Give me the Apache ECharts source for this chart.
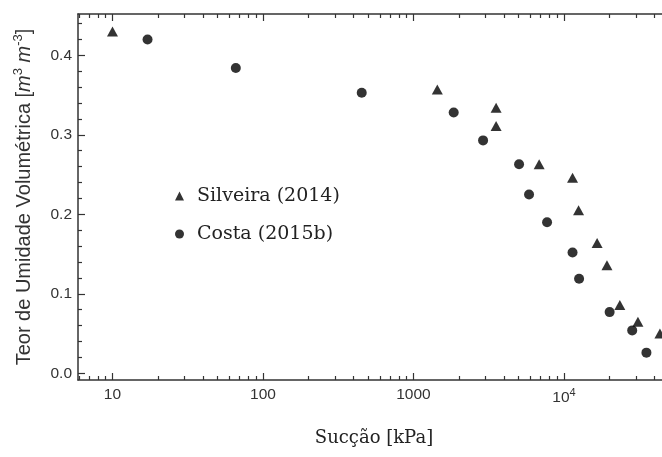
<!DOCTYPE html>
<html>
<head>
<meta charset="utf-8">
<script src="https://cdn.jsdelivr.net/npm/echarts@6/dist/echarts.min.js"></script>
<style>html,body{margin:0;padding:0;background:#fff;}#c{width:662px;height:457px;}</style>
</head>
<body>
<div id="c"></div>
<script>
var silveiraX = [10, 1440, 3540, 3540, 6840, 11400, 12500, 16600, 19300, 23500, 31000, 43400];
var silveiraY = [0.430, 0.357, 0.334, 0.311, 0.263, 0.246, 0.205, 0.164, 0.136, 0.086, 0.065, 0.050];
var costaX = [17.1, 66, 453, 1850, 2900, 5030, 5860, 7720, 11400, 12600, 20100, 28400, 35300];
var costaY = [0.420, 0.384, 0.353, 0.328, 0.293, 0.263, 0.225, 0.190, 0.152, 0.119, 0.077, 0.054, 0.026];
var seriesNames = ['Silveira (2014)', 'Costa (2015b)'];
var xMajor = [10, 100, 1000, 10000];
var xMinor = [6, 7, 8, 9, 20, 30, 40, 50, 60, 70, 80, 90, 200, 300, 400, 500, 600, 700, 800, 900,
              2000, 3000, 4000, 5000, 6000, 7000, 8000, 9000, 20000, 30000, 40000];
var yMajor = [0, 0.1, 0.2, 0.3, 0.4];
var yMinor = [0.02, 0.04, 0.06, 0.08, 0.12, 0.14, 0.16, 0.18, 0.22, 0.24, 0.26, 0.28,
              0.32, 0.34, 0.36, 0.38, 0.42, 0.44];
var xTitle = 'Sucção [kPa]';

function zip(xs, ys) { return xs.map(function (x, i) { return [x, ys[i]]; }); }

var axisColor = '#333';
var xMin = 5.9, xMax = 44800, yMin = -0.0084, yMax = 0.452;

function xAxisDef(pos, major, withLabels) {
  return {
    type: 'log', logBase: 10, min: xMin, max: xMax, position: pos,
    axisLine: { show: major, onZero: false, lineStyle: { color: axisColor, width: 1.5 } },
    axisTick: { show: true, inside: true, length: major ? 7 : 4, customValues: major ? xMajor : xMinor,
                lineStyle: { color: axisColor, width: 1.2 } },
    axisLabel: withLabels ? {
      show: true, customValues: xMajor, margin: 7,
      fontFamily: 'Liberation Sans', fontSize: 15.5, color: '#333',
      formatter: function (v) {
        var r = Math.round(v);
        if (r === 10000) return '{b|10}{s|4}';
        return '{b|' + r + '}';
      },
      rich: {
        b: { fontFamily: 'Liberation Sans', fontSize: 15.5, color: '#333' },
        s: { fontFamily: 'Liberation Sans', fontSize: 11, color: '#333', padding: [0, 0, 10, 0] }
      }
    } : { show: false },
    splitLine: { show: false }, minorTick: { show: false }, minorSplitLine: { show: false },
    name: withLabels ? xTitle : '', nameLocation: 'middle', nameGap: 49,
    nameTextStyle: { fontFamily: 'DejaVu Serif', fontSize: 18, color: '#222', padding: [0, 0, 0, 8] }
  };
}

function yAxisDef(major) {
  return {
    type: 'value', min: yMin, max: yMax, position: 'left',
    axisLine: { show: major, onZero: false, lineStyle: { color: axisColor, width: 1.5 } },
    axisTick: { show: true, inside: true, length: major ? 7 : 4, customValues: major ? yMajor : yMinor,
                lineStyle: { color: axisColor, width: 1.2 } },
    axisLabel: major ? {
      show: true, customValues: yMajor, margin: 6,
      fontFamily: 'Liberation Sans', fontSize: 15.5, color: '#333',
      formatter: function (v) { return v.toFixed(1); }
    } : { show: false },
    splitLine: { show: false },
    name: major ? 'Teor de Umidade Volumétrica [{i|m}{s|3} {i|m}{s|-3}]' : '',
    nameLocation: 'middle', nameGap: 41,
    nameTextStyle: {
      fontFamily: 'Liberation Sans', fontSize: 20, color: '#333',
      rich: {
        i: { fontFamily: 'Liberation Sans', fontStyle: 'italic', fontSize: 20, color: '#333' },
        s: { fontFamily: 'Liberation Sans', fontSize: 13, color: '#333', padding: [0, 0, 12, 0] }
      }
    }
  };
}

var chart = echarts.init(document.getElementById('c'), null, { renderer: 'canvas' });
chart.setOption({
  backgroundColor: '#fff',
  animation: false,
  grid: { left: 78, top: 14, right: 0, bottom: 77, containLabel: false },
  legend: {
    orient: 'vertical', left: 175, top: 186, padding: 0,
    itemWidth: 9, itemHeight: 9, itemGap: 18,
    data: [{ name: seriesNames[0], icon: 'triangle' }, { name: seriesNames[1], icon: 'circle' }],
    textStyle: { fontFamily: 'DejaVu Serif', fontSize: 19, color: '#222', lineHeight: 20, padding: [0, 0, 0, 8] }
  },
  xAxis: [xAxisDef('bottom', true, true), xAxisDef('bottom', false, false),
          xAxisDef('top', true, false), xAxisDef('top', false, false)],
  yAxis: [yAxisDef(true), yAxisDef(false)],
  series: [
    { name: seriesNames[0], type: 'scatter', symbol: 'triangle', symbolSize: [11, 10],
      itemStyle: { color: '#000' }, data: zip(silveiraX, silveiraY), xAxisIndex: 0, yAxisIndex: 0 },
    { name: seriesNames[1], type: 'scatter', symbol: 'circle', symbolSize: 10,
      itemStyle: { color: '#000' }, data: zip(costaX, costaY), xAxisIndex: 0, yAxisIndex: 0 }
  ]
});
</script>
</body>
</html>
